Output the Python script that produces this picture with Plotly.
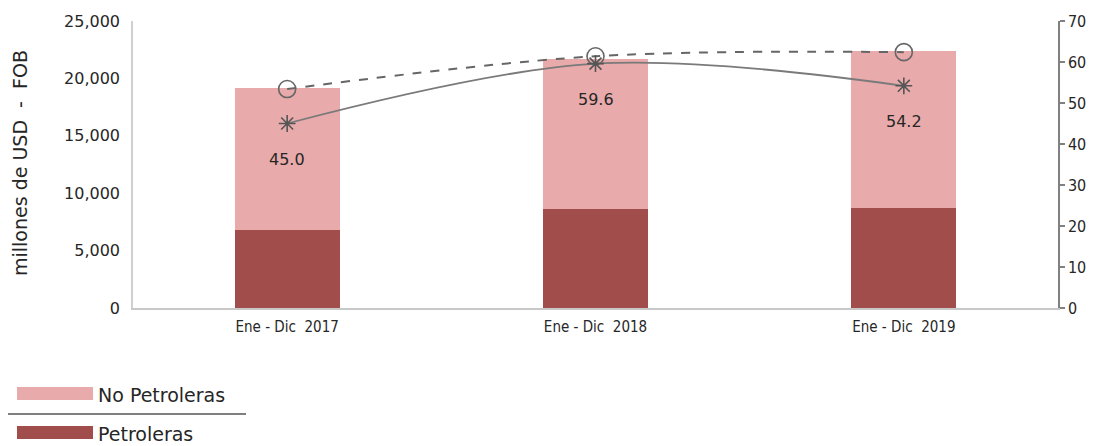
import plotly.graph_objects as go

categories = ["Ene - Dic  2017", "Ene - Dic  2018", "Ene - Dic  2019"]
petroleras = [6800, 8650, 8700]
no_petroleras = [12350, 13000, 13700]
precio_x = [45.0, 59.6, 54.2]
precio_o = [53.4, 61.4, 62.4]
label_x = ["45.0", "59.6", "54.2"]

PINK = "#E8AAAA"
DARK = "#A04D4B"
GRAY = "#7a7a7a"
TXT = "#262626"
FONT = "DejaVu Sans"
NARROW = "Liberation Sans Narrow, Arial Narrow, DejaVu Sans Condensed, sans-serif"

W, H = 1090, 438
OFF = 8  # page body margin

fig = go.Figure()
fig.add_trace(go.Bar(x=categories, y=petroleras, name="Petroleras",
                     marker=dict(color=DARK, line=dict(width=0)), yaxis="y"))
fig.add_trace(go.Bar(x=categories, y=no_petroleras, name="No Petroleras",
                     marker=dict(color=PINK, line=dict(width=0)), yaxis="y"))
fig.add_trace(go.Scatter(x=categories, y=precio_o, yaxis="y2", mode="lines+markers",
                         line=dict(color="#666666", width=2, dash="dash", shape="spline"),
                         marker=dict(symbol="circle-open", size=17, color="#666666",
                                     line=dict(width=1.6, color="#666666")),
                         showlegend=False))
fig.add_trace(go.Scatter(x=categories, y=precio_x, yaxis="y2", mode="lines+markers",
                         line=dict(color=GRAY, width=1.8, shape="spline"),
                         marker=dict(symbol="asterisk-open", size=14, color="#555555",
                                     line=dict(width=1.6, color="#555555")),
                         showlegend=False))

annotations = []
for c, v, t in zip(categories, precio_x, label_x):
    annotations.append(dict(x=c, y=v, xref="x", yref="y2", text=t, showarrow=False,
                            yshift=-36, font=dict(family=FONT, size=16, color=TXT)))


# page-pixel -> paper helpers (plot area spans page x 133..1058, y 21..308)
def px_x(p):
    return (p - 133) / 925.0


def px_y(p):
    return (308 - p) / 287.0


# axis title
annotations.append(dict(x=px_x(20), y=px_y(163), xref="paper", yref="paper", text="millones de USD  -  FOB",
                        textangle=-90, showarrow=False, xanchor="center", yanchor="middle",
                        font=dict(family=FONT, size=19, color=TXT)))

# custom legend
shapes = [
    dict(type="rect", xref="paper", yref="paper", x0=px_x(17), x1=px_x(93), y0=px_y(400), y1=px_y(387),
         fillcolor=PINK, line=dict(width=0)),
    dict(type="line", xref="paper", yref="paper", x0=px_x(7), x1=px_x(246), y0=px_y(414), y1=px_y(414),
         line=dict(color="#555555", width=1.5)),
    dict(type="rect", xref="paper", yref="paper", x0=px_x(17), x1=px_x(93), y0=px_y(439), y1=px_y(426),
         fillcolor=DARK, line=dict(width=0)),
]
annotations.append(dict(x=px_x(96), y=px_y(395), xref="paper", yref="paper", text="No Petroleras",
                        showarrow=False, xanchor="left", yanchor="middle",
                        font=dict(family=FONT, size=19, color=TXT)))
annotations.append(dict(x=px_x(96), y=px_y(434), xref="paper", yref="paper", text="Petroleras",
                        showarrow=False, xanchor="left", yanchor="middle",
                        font=dict(family=FONT, size=19, color=TXT)))

fig.update_layout(
    width=W, height=H,
    margin=dict(l=133 - OFF, r=W - (1058 - OFF), t=21 - OFF, b=H - (308 - OFF), autoexpand=False),
    paper_bgcolor="white", plot_bgcolor="white",
    barmode="stack", bargap=0.66,
    showlegend=False,
    xaxis=dict(showline=True, linecolor="#c8c8c8", linewidth=1.5, showgrid=False, ticks="",
               automargin=False, ticklabelstandoff=4,
               tickfont=dict(family=NARROW, size=15, color=TXT)),
    yaxis=dict(range=[0, 25000], dtick=5000, tickformat=",", showgrid=False, zeroline=False,
               showline=True, linecolor="#d0d0d0", linewidth=1.5, ticks="", automargin=False,
               ticklabelstandoff=8,
               tickfont=dict(family=FONT, size=16, color=TXT)),
    yaxis2=dict(range=[0, 70], dtick=10, overlaying="y", side="right", showgrid=False, zeroline=False,
                showline=True, linecolor="#808080", linewidth=1.5, ticks="outside", ticklen=5,
                tickcolor="#808080", tickwidth=1.5, automargin=False,
                tickfont=dict(family=NARROW, size=16, color=TXT)),
    annotations=annotations,
    shapes=shapes,
)

fig.write_html("out.html")
